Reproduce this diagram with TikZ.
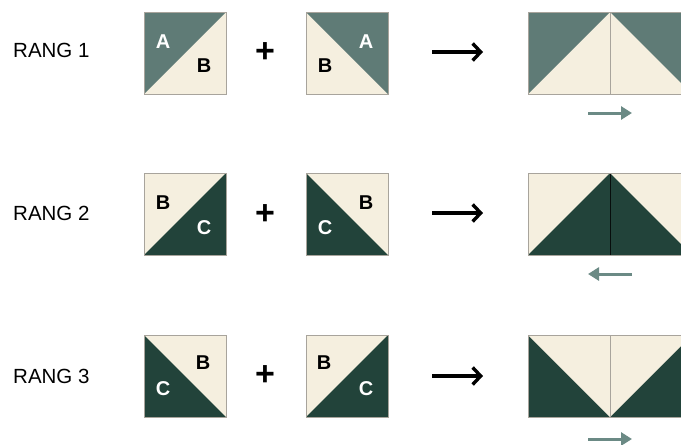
\documentclass[tikz,border=0pt]{standalone}
\usepackage{fontspec}
\setmainfont{Liberation Sans}
\usetikzlibrary{arrows.meta}
\definecolor{midg}{HTML}{5F7B76}
\definecolor{darkg}{HTML}{22433A}
\definecolor{cream}{HTML}{F5EFDF}
\definecolor{edge}{HTML}{A8A49C}
\definecolor{teal}{HTML}{6B8A85}
\tikzset{
  rowlabel/.style={anchor=west,inner sep=0pt,font=\fontsize{20.5}{22}\selectfont},
  plussign/.style={inner sep=0pt,font=\fontsize{34}{34}\bfseries\selectfont},
  lt/.style={inner sep=0pt,font=\fontsize{20}{20}\bfseries\selectfont},
  ltw/.style={lt,text=white},
  ltb/.style={lt,text=black},
  bigarrow/.style={line width=3.4pt,-{Straight Barb[length=8pt,width=17pt,line width=3.4pt]}},
  smallarrow/.style={draw=teal,line width=3pt,-{Triangle[length=11pt,width=13pt]}},
  sqedge/.style={draw=edge,line width=1pt},
}
\begin{document}
\begin{tikzpicture}[x=1pt,y=-1pt]
\useasboundingbox (0,0) rectangle (681,445);
% ---------- Row 1 ----------
\node[rowlabel] (r1) at (13,50) {RANG 1};
\fill[cream] (144,12) rectangle ++(82,82);
\fill[midg] (144,12) -- ++(82,0) -- ++(-82,82) -- cycle;
\draw[sqedge] (144,12) rectangle ++(82,82);
\node[ltw] (a11) at (163,42) {A};
\node[ltb] (b11) at (204,66) {B};
\node[plussign] (p1) at (265,53) {+};
\fill[cream] (306,12) rectangle ++(82,82);
\fill[midg] (306,12) -- ++(82,0) -- ++(0,82) -- cycle;
\draw[sqedge] (306,12) rectangle ++(82,82);
\node[ltw] (a12) at (366,42) {A};
\node[ltb] (b12) at (325,66) {B};
\coordinate (s1) at (432,52);
\coordinate (e1) at (483,52);
\draw[bigarrow] (s1) -- (e1);
\fill[cream] (528,12) rectangle (692,94);
\fill[midg] (528,12) -- (610,12) -- (528,94) -- cycle;
\fill[midg] (610,12) -- (692,12) -- (692,94) -- cycle;
\draw[sqedge] (610,12) -- (610,94);
\draw[sqedge] (528,12) rectangle (692,94);
\coordinate (m1a) at (588,113);
\coordinate (m1b) at (632,113);
\draw[smallarrow] (m1a) -- (m1b);
% ---------- Row 2 ----------
\node[rowlabel] (r2) at (13,213) {RANG 2};
\fill[cream] (144,173) rectangle ++(82,82);
\fill[darkg] (226,173) -- ++(0,82) -- ++(-82,0) -- cycle;
\draw[sqedge] (144,173) rectangle ++(82,82);
\node[ltb] (b21) at (163,203) {B};
\node[ltw] (c21) at (204,228) {C};
\node[plussign] (p2) at (265,215) {+};
\fill[cream] (306,173) rectangle ++(82,82);
\fill[darkg] (306,173) -- ++(82,82) -- ++(-82,0) -- cycle;
\draw[sqedge] (306,173) rectangle ++(82,82);
\node[ltb] (b22) at (366,203) {B};
\node[ltw] (c22) at (325,228) {C};
\coordinate (s2) at (432,213);
\coordinate (e2) at (483,213);
\draw[bigarrow] (s2) -- (e2);
\fill[cream] (528,173) rectangle (692,255);
\fill[darkg] (528,255) -- (610,173) -- (692,255) -- cycle;
\draw[line width=1pt,draw=black!80!darkg] (610,173) -- (610,255);
\draw[sqedge] (528,173) rectangle (692,255);
\coordinate (m2a) at (632,274);
\coordinate (m2b) at (588,274);
\draw[smallarrow] (m2a) -- (m2b);
% ---------- Row 3 ----------
\node[rowlabel] (r3) at (13,376) {RANG 3};
\fill[cream] (144,335) rectangle ++(82,82);
\fill[darkg] (144,335) -- ++(82,82) -- ++(-82,0) -- cycle;
\draw[sqedge] (144,335) rectangle ++(82,82);
\node[ltb] (b31) at (203,363) {B};
\node[ltw] (c31) at (163,389) {C};
\node[plussign] (p3) at (265,376) {+};
\fill[cream] (306,335) rectangle ++(82,82);
\fill[darkg] (388,335) -- ++(0,82) -- ++(-82,0) -- cycle;
\draw[sqedge] (306,335) rectangle ++(82,82);
\node[ltb] (b32) at (324,363) {B};
\node[ltw] (c32) at (366,389) {C};
\coordinate (s3) at (432,376);
\coordinate (e3) at (483,376);
\draw[bigarrow] (s3) -- (e3);
\fill[darkg] (528,335) rectangle (692,417);
\fill[cream] (528,335) -- (692,335) -- (610,417) -- cycle;
\draw[sqedge] (610,335) -- (610,417);
\draw[sqedge] (528,335) rectangle (692,417);
\coordinate (m3a) at (588,439);
\coordinate (m3b) at (632,439);
\draw[smallarrow] (m3a) -- (m3b);
\end{tikzpicture}
\end{document}
